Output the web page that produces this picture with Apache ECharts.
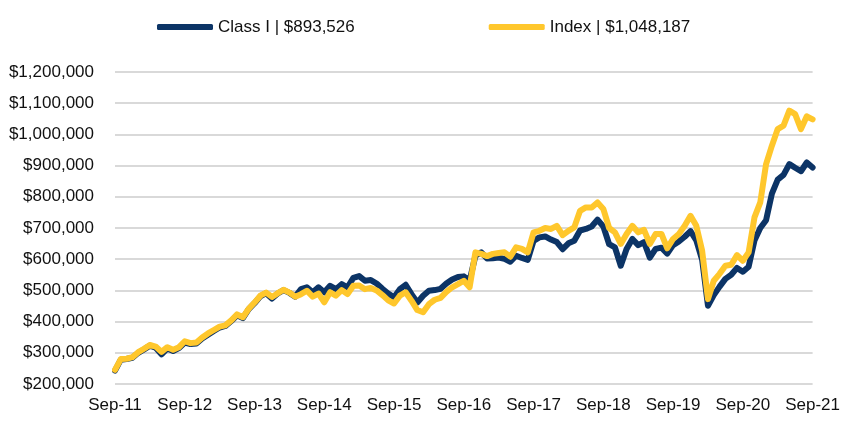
<!DOCTYPE html>
<html>
<head>
<meta charset="utf-8">
<script src="https://cdn.jsdelivr.net/npm/echarts@6/dist/echarts.min.js"></script>
<style>
html,body{margin:0;padding:0;background:#fff;}
#chart{width:843px;height:421px;}
</style>
</head>
<body>
<div id="chart"></div>
<script>
// Monthly growth of investment, Sep-2011 .. Sep-2021 (values in $ thousands)
const startYear = 2011;
const startMonth = 8; // September (0-based)
const monthNames = ['Jan','Feb','Mar','Apr','May','Jun','Jul','Aug','Sep','Oct','Nov','Dec'];

const seriesNames = ['Class I | $893,526', 'Index | $1,048,187'];

const classI = [
  243,278,280,284,300,311,323,316,295,314,306,315,
  333,328,330,346,358,370,381,386,402,420,411,440,
  459,481,491,474,490,501,492,480,504,510,494,510,
  494,515,504,520,510,540,546,531,533,522,505,490,
  478,504,518,488,461,483,499,501,505,522,535,543,
  545,531,611,622,602,603,605,601,592,611,604,598,
  659,670,673,663,655,632,651,659,692,697,705,727,
  705,648,638,579,633,665,645,655,605,633,637,618,
  645,657,672,690,660,598,451,485,512,537,550,572,
  560,576,660,700,725,810,855,870,905,893,882,910,
  893.526
];

const indexSeries = [
  245,280,281,286,302,313,325,320,303,318,310,318,
  337,331,333,349,362,373,384,388,404,423,414,441,
  461,483,493,479,491,502,493,480,488,499,480,490,
  462,494,483,501,488,515,516,504,508,500,485,468,
  458,483,494,467,437,430,456,470,476,495,510,520,
  531,510,622,617,610,617,620,622,608,638,633,622,
  686,691,700,697,707,677,691,702,755,766,766,782,
  761,700,686,649,681,707,686,694,649,681,681,635,
  665,681,707,739,707,627,472,531,553,579,582,613,
  595,622,734,782,905,964,1017,1028,1076,1065,1017,1058,
  1048.187
];

const yMin = 200, yMax = 1200, yStep = 100; // thousands

const categories = [];
for (let i = 0; i < classI.length; i++) {
  const m = (startMonth + i) % 12;
  const y = startYear + Math.floor((startMonth + i) / 12);
  categories.push(monthNames[m] + '-' + String(y).slice(2));
}

const FONT = '"Liberation Sans", Arial, sans-serif';
const chart = echarts.init(document.getElementById('chart'), null, {renderer: 'canvas'});
chart.setOption({
  animation: false,
  backgroundColor: '#ffffff',
  grid: {left: 115, right: 27, top: 72, bottom: 37, containLabel: false},
  legend: {
    left: 152, top: 12,
    icon: 'roundRect', itemWidth: 56, itemHeight: 6, itemGap: 134,
    textStyle: {fontFamily: FONT, fontSize: 17, color: '#111', lineHeight: 20},
    data: seriesNames
  },
  xAxis: {
    type: 'category', data: categories, boundaryGap: false,
    axisLine: {show: false}, axisTick: {show: false},
    axisLabel: {interval: 11, margin: 13, fontFamily: FONT, fontSize: 17, color: '#111'},
    splitLine: {show: false}
  },
  yAxis: {
    type: 'value', min: yMin, max: yMax, interval: yStep,
    axisLine: {show: false}, axisTick: {show: false},
    axisLabel: {margin: 21, fontFamily: FONT, fontSize: 17, color: '#111',
      formatter: v => '$' + (v * 1000).toLocaleString('en-US')},
    splitLine: {lineStyle: {color: '#d9d9d9', width: 2}}
  },
  series: [
    {name: seriesNames[0], type: 'line', data: classI, symbol: 'none', color: '#0C3466',
     lineStyle: {width: 6, cap: 'round', join: 'round'}},
    {name: seriesNames[1], type: 'line', data: indexSeries, symbol: 'none', color: '#FFC72C',
     lineStyle: {width: 6, cap: 'round', join: 'round'}}
  ]
});
</script>
</body>
</html>
